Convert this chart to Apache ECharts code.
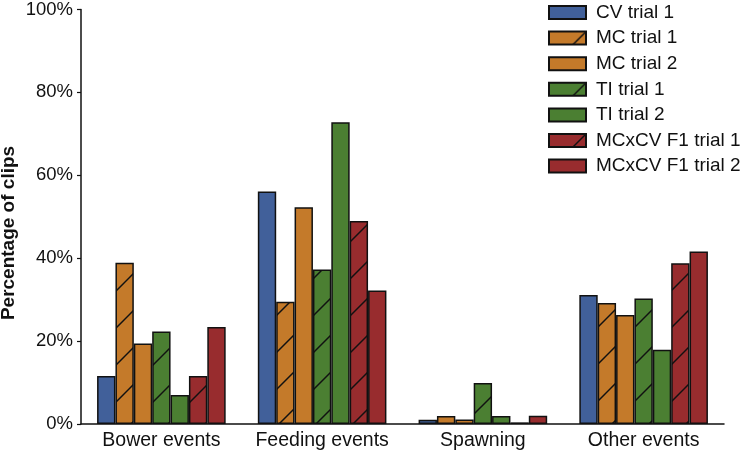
<!DOCTYPE html>
<html>
<head>
<meta charset="utf-8">
<script src="https://cdn.jsdelivr.net/npm/echarts@6/dist/echarts.min.js"></script>
<style>html,body{margin:0;padding:0;background:#fff}#c{width:747px;height:456px}</style>
</head>
<body>
<div id="c"></div>
<script>
const categories = ['Bower events', 'Feeding events', 'Spawning', 'Other events'];
const seriesNames = ['CV trial 1', 'MC trial 1', 'MC trial 2', 'TI trial 1', 'TI trial 2', 'MCxCV F1 trial 1', 'MCxCV F1 trial 2'];
const cvTrial1 = [11.6, 56.1, 1.0, 31.1];
const mcTrial1 = [38.9, 29.5, 1.9, 29.2];
const mcTrial2 = [19.4, 52.3, 1.1, 26.3];
const tiTrial1 = [22.3, 37.3, 9.9, 30.3];
const tiTrial2 = [7.0, 72.8, 1.9, 17.9];
const f1Trial1 = [11.6, 49.0, 0.4, 38.8];
const f1Trial2 = [23.4, 32.2, 2.0, 41.6];
const yTicks = [0, 20, 40, 60, 80, 100];

const seriesValues = [cvTrial1, mcTrial1, mcTrial2, tiTrial1, tiTrial2, f1Trial1, f1Trial2];
const seriesColors = ['#41609a', '#c47a2a', '#c47a2a', '#4b7f32', '#4b7f32', '#982c2e', '#982c2e'];
const seriesHatched = [false, true, false, true, false, true, false];

function hatch(color) {
  const s = 37;
  const c = document.createElement('canvas');
  c.width = s; c.height = s;
  const g = c.getContext('2d');
  g.fillStyle = color;
  g.fillRect(0, 0, s, s);
  g.strokeStyle = '#111';
  g.lineWidth = 1.5;
  for (let k = -1; k <= 1; k++) {
    g.beginPath();
    g.moveTo(-5, s + 5 + s * k);
    g.lineTo(s + 5, -5 + s * k);
    g.stroke();
  }
  return { image: c, repeat: 'repeat' };
}

const FONT = 'Liberation Sans, Arial, sans-serif';
const chart = echarts.init(document.getElementById('c'), null, { renderer: 'canvas' });

const series = seriesNames.map((n, i) => ({
  name: n,
  type: 'bar',
  data: seriesValues[i],
  barGap: '0%',
  barCategoryGap: '20%',
  itemStyle: {
    color: seriesHatched[i] ? hatch(seriesColors[i]) : seriesColors[i],
    borderColor: '#111',
    borderWidth: 1.5
  }
}));

chart.setOption({
  animation: false,
  backgroundColor: '#fff',
  grid: { left: 81, right: 23, top: 5, bottom: 32, containLabel: false },
  legend: {
    orient: 'vertical',
    left: 548,
    top: 3,
    padding: 0,
    itemWidth: 37,
    itemHeight: 13,
    itemGap: 6.6,
    icon: 'rect',
    data: seriesNames,
    textStyle: { fontFamily: FONT, fontSize: 19, color: '#111', lineHeight: 19, padding: [0, 0, 0, 5] }
  },
  xAxis: {
    type: 'category',
    data: categories,
    axisLine: { lineStyle: { color: '#111', width: 1.5 } },
    axisTick: { alignWithLabel: true, length: 3, lineStyle: { color: '#111', width: 1.2 } },
    axisLabel: { interval: 0, fontFamily: FONT, fontSize: 19.5, color: '#111', margin: 7 }
  },
  yAxis: {
    type: 'value',
    min: yTicks[0],
    max: yTicks[yTicks.length - 1],
    interval: 20,
    splitLine: { show: false },
    axisLine: { show: true, lineStyle: { color: '#111', width: 1.5 } },
    axisTick: { show: true, length: 4, lineStyle: { color: '#111', width: 1.2 } },
    axisLabel: { fontFamily: FONT, fontSize: 18.5, color: '#111', margin: 8, formatter: '{value}%' }
  },
  graphic: [{
    type: 'text',
    x: 9,
    y: 233,
    rotation: Math.PI / 2,
    style: {
      text: 'Percentage of clips',
      font: 'bold 19px ' + FONT,
      fill: '#111',
      textAlign: 'center',
      textVerticalAlign: 'middle'
    }
  }],
  series: series
});
</script>
</body>
</html>
